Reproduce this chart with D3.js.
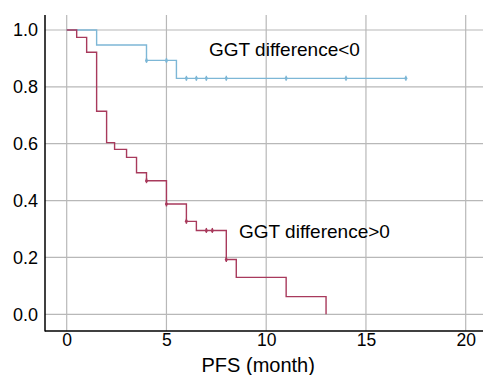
<!DOCTYPE html>
<html>
<head>
<meta charset="utf-8">
<script src="https://cdn.jsdelivr.net/npm/d3@7"></script>
<style>
  html, body { margin: 0; padding: 0; background: #fff; }
  svg { display: block; font-family: "Liberation Sans", Arial, Helvetica, sans-serif; }
</style>
</head>
<body>
<svg id="chart" width="483" height="375"></svg>
<script>
// ---- data ----
const xTicks = [0, 5, 10, 15, 20];
const yTicks = [0.0, 0.2, 0.4, 0.6, 0.8, 1.0];
const xTitle = "PFS (month)";

// GGT difference<0 (blue)
const blueTimes = [0, 1.5, 4.0, 5.5];
const blueSurv  = [1.0, 0.947, 0.893, 0.830];
const blueEnd   = 17.0;
const blueCensor = [4.0, 5.0, 6.0, 6.5, 7.0, 8.0, 11.0, 14.0, 17.0];
const blueLabel = "GGT difference<0";

// GGT difference>0 (red)
const redTimes = [0, 0.5, 1.0, 1.5, 2.0, 2.4, 3.0, 3.5, 4.0, 5.0, 6.0, 6.5, 8.0, 8.5, 11.0, 13.0];
const redSurv  = [1.0, 0.974, 0.922, 0.714, 0.604, 0.580, 0.552, 0.498, 0.470, 0.388, 0.327, 0.295, 0.193, 0.130, 0.062, 0.0];
const redEnd   = 13.0;
const redCensor = [4.0, 5.0, 6.0, 7.0, 7.3, 8.0];
const redLabel = "GGT difference>0";

// ---- layout ----
const svg = d3.select("#chart");
const plotLeft = 45, plotRight = 483, plotTop = 15, plotBottom = 331;
const x = d3.scaleLinear().domain([0, 20]).range([66.7, 465.7]);
const y = d3.scaleLinear().domain([0, 1]).range([314.3, 30]);

const gridColor = "#b8b8b8";
// vertical gridlines
svg.append("g").selectAll("line").data(xTicks).join("line")
  .attr("x1", d => x(d)).attr("x2", d => x(d))
  .attr("y1", plotTop).attr("y2", plotBottom)
  .attr("stroke", gridColor).attr("stroke-width", 1.2);
// horizontal gridlines
svg.append("g").selectAll("line").data(yTicks).join("line")
  .attr("x1", plotLeft).attr("x2", plotRight)
  .attr("y1", d => y(d)).attr("y2", d => y(d))
  .attr("stroke", gridColor).attr("stroke-width", 1.2);

// axes via d3
const xAxis = d3.axisBottom(x).tickValues(xTicks).tickFormat(d3.format("d")).tickSize(0).tickPadding(3);
const gx = svg.append("g").attr("transform", `translate(0,${plotBottom})`).call(xAxis);
gx.select(".domain").remove();
gx.selectAll("text").attr("font-size", 17.5).attr("fill", "#000")
  .attr("font-family", "Liberation Sans, Arial, sans-serif");

const yAxis = d3.axisLeft(y).tickValues(yTicks).tickFormat(d3.format(".1f")).tickSize(0).tickPadding(7);
const gy = svg.append("g").attr("transform", `translate(${plotLeft},0)`).call(yAxis);
gy.select(".domain").remove();
gy.selectAll("text").attr("font-size", 18).attr("fill", "#000")
  .attr("font-family", "Liberation Sans, Arial, sans-serif");

// axis lines
svg.append("line").attr("x1", plotLeft).attr("x2", plotLeft)
  .attr("y1", plotTop).attr("y2", plotBottom + 0.5)
  .attr("stroke", "#000").attr("stroke-width", 1.5);
svg.append("line").attr("x1", plotLeft).attr("x2", plotRight)
  .attr("y1", plotBottom).attr("y2", plotBottom)
  .attr("stroke", "#000").attr("stroke-width", 1.5);

// x title
svg.append("text").attr("x", (x(0) + x(20)) / 2 - 8).attr("y", 372)
  .attr("text-anchor", "middle").attr("font-size", 20).text(xTitle);

// ---- KM curves ----
function stepValue(times, surv, t) {
  let v = surv[0];
  for (let i = 0; i < times.length; i++) if (times[i] <= t) v = surv[i];
  return v;
}
function drawCurve(times, surv, end, censor, color) {
  const pts = times.map((t, i) => [t, surv[i]]);
  if (end > times[times.length - 1]) pts.push([end, surv[surv.length - 1]]);
  const line = d3.line().x(d => x(d[0])).y(d => y(d[1])).curve(d3.curveStepAfter);
  svg.append("path").datum(pts).attr("d", line)
    .attr("fill", "none").attr("stroke", color).attr("stroke-width", 1.4);
  const g = svg.append("g");
  censor.forEach(t => {
    const v = stepValue(times, surv, t);
    g.append("line").attr("x1", x(t)).attr("x2", x(t))
      .attr("y1", y(v) - 2.5).attr("y2", y(v) + 2.5)
      .attr("stroke", color).attr("stroke-width", 1.4);
    g.append("circle").attr("cx", x(t)).attr("cy", y(v)).attr("r", 1.5).attr("fill", color);
  });
}
drawCurve(blueTimes, blueSurv, blueEnd, blueCensor, "#7db7d6");
drawCurve(redTimes, redSurv, redEnd, redCensor, "#a83a5c");

// labels
svg.append("text").attr("x", 209).attr("y", 56).attr("font-size", 19).text(blueLabel);
svg.append("text").attr("x", 239).attr("y", 238).attr("font-size", 19).text(redLabel);
</script>
</body>
</html>
